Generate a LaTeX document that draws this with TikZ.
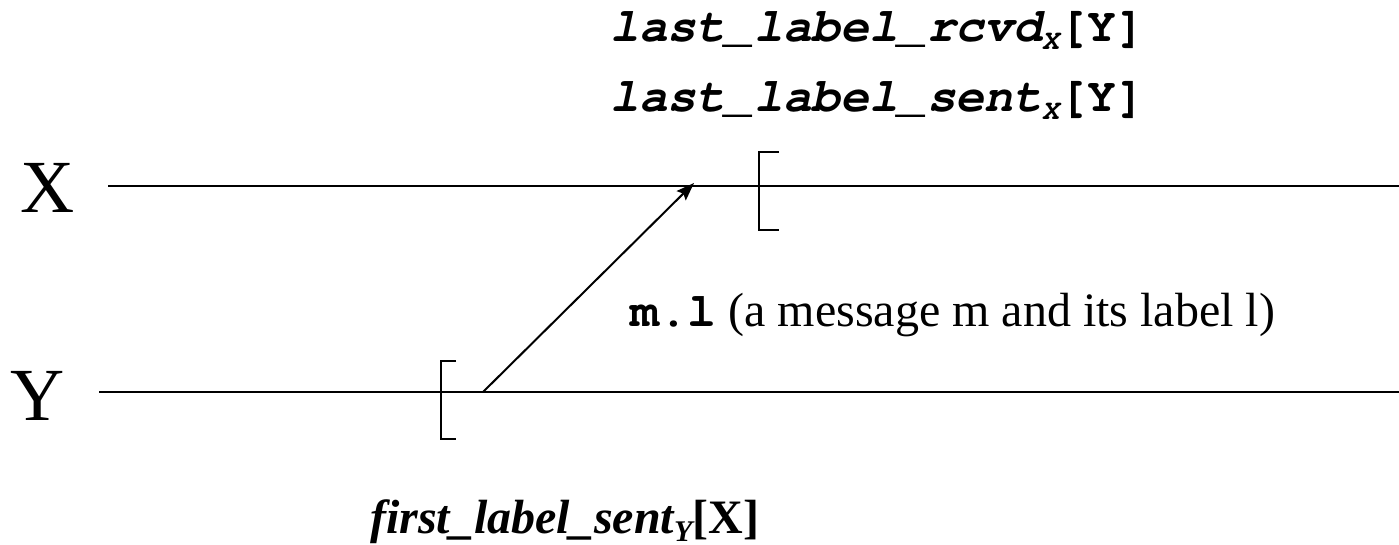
\documentclass[tikz,border=0pt]{standalone}
\usepackage{fontspec}
\setmainfont{Liberation Serif}
\setmonofont{texgyrecursor}[Extension=.otf,
  UprightFont=*-regular, BoldFont=*-bold,
  ItalicFont=*-italic, BoldItalicFont=*-bolditalic]
\usetikzlibrary{arrows.meta}

% text helpers
\newcommand{\bigtxt}{\fontsize{48}{48}\selectfont}
\newcommand{\subtxt}{\fontsize{28}{28}\selectfont}
\newcommand{\codeit}[1]{{\ttfamily\bfseries\itshape #1}}

\begin{document}
\begin{tikzpicture}[x=1pt,y=-1pt,
  timeline/.style={line width=2pt},
  bracket/.style={line width=2pt},
  msg/.style={line width=2pt,-{Stealth[length=18pt,width=13pt,inset=3pt]}},
  proc/.style={font=\fontsize{75}{75}\selectfont,inner sep=0pt,anchor=base},
  txt/.style={font=\bigtxt,inner sep=0pt,anchor=base west}]
\useasboundingbox (0,0) rectangle (1399,545);

% process names
\node[proc] (px) at (48,213) {X};
\node[proc] (py) at (38,420) {Y};

% time lines
\coordinate (xs) at (108,186);
\coordinate (xe) at (1399,186);
\coordinate (ys) at (99,392);
\coordinate (ye) at (1399,392);
\draw[timeline] (xs) -- (xe);
\draw[timeline] (ys) -- (ye);

% interval brackets
\draw[bracket] (779,152) -- (759,152) -- (759,230) -- (779,230);
\draw[bracket] (456,361) -- (441,361) -- (441,439) -- (456,439);

% the message
\coordinate (send) at (483,392);
\coordinate (recv) at (694,183);
\draw[msg] (send) -- (recv);

% labels
\node[txt] (rcvd) at (610,42)
  {\codeit{last\_label\_rcvd}\raisebox{-8pt}{\subtxt\codeit{X}}{\ttfamily\bfseries[Y]}};
\node[txt] (sent) at (610,112)
  {\codeit{last\_label\_sent}\raisebox{-8pt}{\subtxt\codeit{X}}{\ttfamily\bfseries[Y]}};
\node[txt] (ml) at (630,326)
  {{\ttfamily\bfseries m.l} (a message m and its label l)};
\node[txt] (first) at (370,533)
  {{\bfseries\itshape first\_label\_sent}\raisebox{-8pt}{\fontsize{30}{30}\selectfont\bfseries\itshape Y}{\bfseries[X]}};
\end{tikzpicture}
\end{document}
